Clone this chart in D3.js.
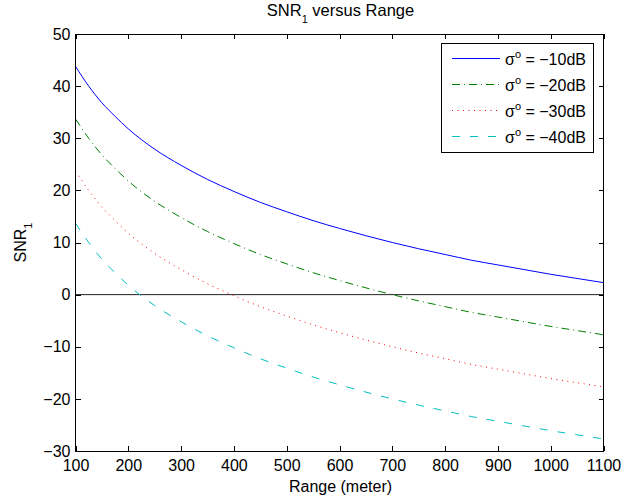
<!DOCTYPE html>
<html>
<head>
<meta charset="utf-8">
<script src="https://cdn.jsdelivr.net/npm/d3@7"></script>
<style>
  html, body { margin: 0; padding: 0; background: #fff; }
  svg { display: block; font-family: "Liberation Sans", Arial, Helvetica, sans-serif; }
</style>
</head>
<body>
<svg id="chart" width="622" height="501"></svg>
<script>
// ---- data ----
const range = [100, 125, 150, 175, 200, 250, 300, 350, 400, 450, 500, 550, 600, 650, 700, 750, 800, 850, 900, 950, 1000, 1050, 1100];
const snrMinus10 = [43.8, 40.0, 36.8, 34.2, 31.8, 27.9, 24.8, 22.1, 19.8, 17.7, 15.9, 14.2, 12.7, 11.3, 10.0, 8.8, 7.7, 6.6, 5.7, 4.8, 3.9, 3.1, 2.3];
const snrMinus20 = [33.7, 30.0, 26.8, 24.2, 21.8, 17.9, 14.8, 12.1, 9.8, 7.7, 5.9, 4.2, 2.7, 1.3, 0.0, -1.2, -2.3, -3.4, -4.3, -5.2, -6.1, -6.9, -7.7];
const snrMinus30 = [23.7, 20.0, 16.8, 14.2, 11.8, 7.9, 4.8, 2.1, -0.2, -2.3, -4.1, -5.8, -7.3, -8.7, -10.0, -11.2, -12.3, -13.4, -14.3, -15.2, -16.1, -16.9, -17.7];
const snrMinus40 = [13.7, 10.0, 6.8, 4.2, 1.8, -2.1, -5.2, -7.9, -10.2, -12.3, -14.1, -15.8, -17.3, -18.7, -20.0, -21.2, -22.3, -23.4, -24.3, -25.2, -26.1, -26.9, -27.7];
const seriesNames = ["\u221210dB", "\u221220dB", "\u221230dB", "\u221240dB"];
const xTicks = [100, 200, 300, 400, 500, 600, 700, 800, 900, 1000, 1100];
const yTicks = [-30, -20, -10, 0, 10, 20, 30, 40, 50];

// ---- styles ----
const styles = [
  { color: "#0000ff", dash: null },
  { color: "#008000", dash: "8,4,1,4" },
  { color: "#ff0000", dash: "1,4.5" },
  { color: "#00bfbf", dash: "8,10" }
];
const allSeries = [snrMinus10, snrMinus20, snrMinus30, snrMinus40];

const svg = d3.select("#chart");
const L = 75.5, R = 603.5, T = 34, B = 451;
const x = d3.scaleLinear().domain([100, 1100]).range([L, R]);
const y = d3.scaleLinear().domain([-30, 50]).range([B, T]);
const FS = 16;

// zero line
svg.append("line")
  .attr("x1", x(100)).attr("x2", x(1100))
  .attr("y1", y(0)).attr("y2", y(0))
  .attr("stroke", "#222").attr("stroke-width", 1);

// curves
const line = d3.line().x((d, i) => x(range[i])).y(d => y(d)).curve(d3.curveMonotoneX);
allSeries.forEach((s, k) => {
  svg.append("path")
    .attr("d", line(s))
    .attr("fill", "none")
    .attr("stroke", styles[k].color)
    .attr("stroke-width", 1)
    .attr("stroke-dasharray", styles[k].dash);
});

// axes
function styleAxis(g, labels) {
  g.select(".domain").remove();
  g.selectAll(".tick line").attr("stroke", "#000").attr("shape-rendering", "crispEdges");
  if (labels) {
    g.selectAll(".tick text").attr("fill", "#000").style("font-size", FS + "px")
      .style("font-family", '"Liberation Sans", Arial, sans-serif');
  } else {
    g.selectAll(".tick text").remove();
  }
}
const fmt = d => d < 0 ? "\u2212" + Math.abs(d) : String(d);
svg.append("g").attr("transform", `translate(0,${B})`)
  .call(d3.axisBottom(x).tickValues(xTicks).tickSize(-5).tickPadding(9).tickFormat(fmt))
  .call(g => styleAxis(g, true));
svg.append("g").attr("transform", `translate(0,${T})`)
  .call(d3.axisTop(x).tickValues(xTicks).tickSize(-5))
  .call(g => styleAxis(g, false));
svg.append("g").attr("transform", `translate(${L},0)`)
  .call(d3.axisLeft(y).tickValues(yTicks).tickSize(-5).tickPadding(5).tickFormat(fmt))
  .call(g => styleAxis(g, true));
svg.append("g").attr("transform", `translate(${R},0)`)
  .call(d3.axisRight(y).tickValues(yTicks).tickSize(-5))
  .call(g => styleAxis(g, false));

// box
svg.append("rect")
  .attr("x", L).attr("y", T).attr("width", R - L).attr("height", B - T)
  .attr("fill", "none").attr("stroke", "#000").attr("stroke-width", 1)
  .attr("shape-rendering", "crispEdges");

// title
const title = svg.append("text").attr("x", (L + R) / 2 + 1).attr("y", 15.5)
  .attr("text-anchor", "middle").style("font-size", "16.5px");
title.append("tspan").text("SNR");
title.append("tspan").attr("dy", 7.5).style("font-size", "11px").text("1");
title.append("tspan").attr("dy", -7.5).text(" versus Range");

// x label
svg.append("text").attr("x", (L + R) / 2 + 1).attr("y", 491.5)
  .attr("text-anchor", "middle").style("font-size", FS + "px").text("Range (meter)");

// y label
const yl = svg.append("text").attr("transform", `translate(26,${(T + B) / 2}) rotate(-90)`)
  .attr("text-anchor", "middle").style("font-size", FS + "px");
yl.append("tspan").text("SNR");
yl.append("tspan").attr("dy", 6).style("font-size", "11px").text("1");

// legend
const lg = svg.append("g");
lg.append("rect").attr("x", 441.5).attr("y", 43.5).attr("width", 151.5).attr("height", 108.5)
  .attr("fill", "#fff").attr("stroke", "#000").attr("stroke-width", 1).attr("shape-rendering", "crispEdges");
seriesNames.forEach((name, k) => {
  const ry = 58.5 + k * 26;
  lg.append("line").attr("x1", 452).attr("x2", 500).attr("y1", ry).attr("y2", ry)
    .attr("stroke", styles[k].color).attr("stroke-width", 1)
    .attr("stroke-dasharray", styles[k].dash);
  const t = lg.append("text").attr("x", 505).attr("y", ry + 6).style("font-size", FS + "px");
  t.append("tspan").text("\u03c3");
  t.append("tspan").attr("dy", -7).style("font-size", "11px").text("o");
  t.append("tspan").attr("dy", 7).text(" = " + name);
});
</script>
</body>
</html>
